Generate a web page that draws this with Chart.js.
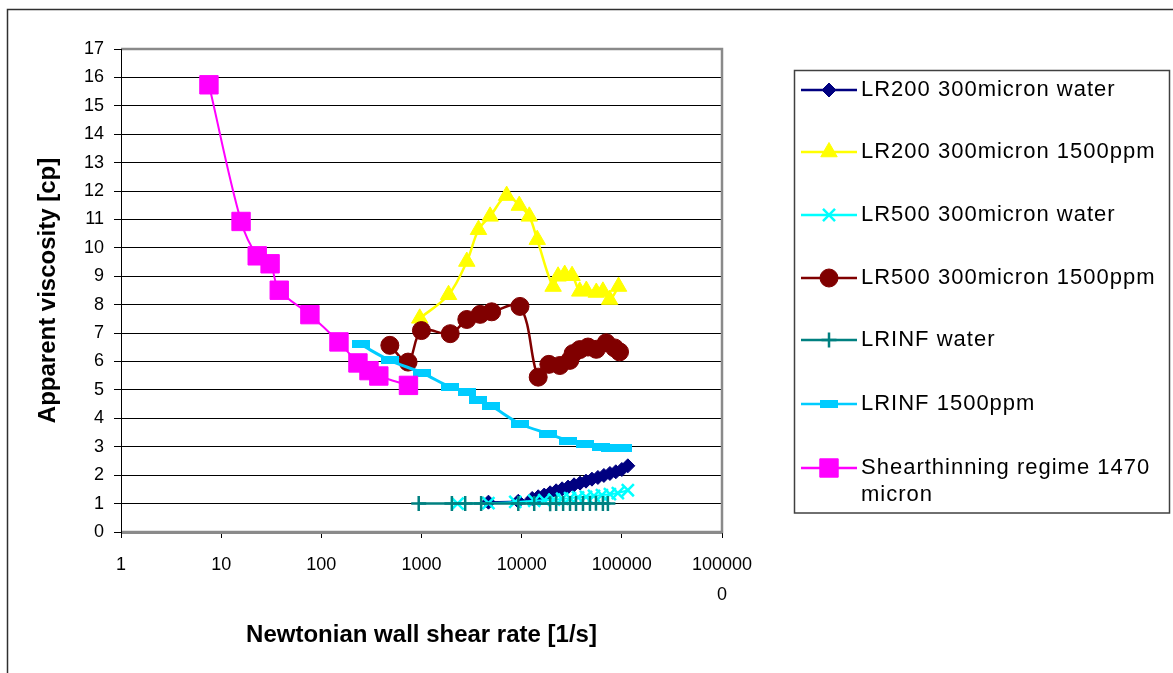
<!DOCTYPE html>
<html>
<head>
<meta charset="utf-8">
<title>Apparent viscosity vs Newtonian wall shear rate</title>
<script src="https://cdn.jsdelivr.net/npm/chart.js@4/dist/chart.umd.min.js"></script>
<style>
  html, body { margin: 0; padding: 0; background: #fff; }
  #wrap { width: 1173px; height: 673px; position: relative; }
  canvas { display: block; }
</style>
</head>
<body>
<div id="wrap"><canvas id="chart" width="1173" height="673" style="width:1173px;height:673px"></canvas></div>
<script>
// ---- axis ticks ----
const rateTicks = [1, 10, 100, 1000, 10000, 100000, 1000000];
const rateTickLabels = ['1', '10', '100', '1000', '10000', '100000', ['100000', '0']];
const viscMin = 0;
const viscMax = 17;

// ---- series: shear rate [1/s] and apparent viscosity [cp] ----
const lr200WaterRate = [4660, 9250, 12740, 14620, 16790, 19240, 22080, 25330, 29040, 33340, 38280, 43870, 50320, 57680, 66220, 76030, 87100, 100000, 114800];
const lr200WaterVisc = [1.05, 1.08, 1.18, 1.24, 1.30, 1.38, 1.45, 1.52, 1.58, 1.66, 1.72, 1.79, 1.86, 1.92, 1.99, 2.06, 2.12, 2.20, 2.33];

const lr200PolyRate = [960, 1862, 2833, 3706, 4842, 7080, 9460, 11910, 14300, 20600, 23100, 26900, 31850, 38000, 44200, 55600, 64700, 75500, 92700];
const lr200PolyVisc = [7.52, 8.35, 9.52, 10.64, 11.11, 11.84, 11.49, 11.11, 10.29, 8.64, 9.00, 9.06, 9.02, 8.47, 8.50, 8.43, 8.47, 8.18, 8.64];

const lr500WaterRate = [2290, 4660, 8630, 13340, 16790, 21090, 25330, 30390, 36530, 43870, 52700, 63260, 76030, 91260, 114800];
const lr500WaterVisc = [1.00, 1.02, 1.06, 1.10, 1.12, 1.14, 1.17, 1.19, 1.22, 1.24, 1.27, 1.30, 1.33, 1.37, 1.47];

const lr500PolyRate = [483, 734, 998, 1936, 2833, 3852, 5020, 9620, 14620, 18680, 24040, 30220, 32600, 38000, 45900, 55600, 69800, 84600, 94900];
const lr500PolyVisc = [6.57, 5.98, 7.09, 6.98, 7.48, 7.66, 7.75, 7.94, 5.45, 5.90, 5.86, 6.04, 6.28, 6.42, 6.51, 6.43, 6.66, 6.48, 6.34];

const lrInfWaterRate = [938, 2010, 2730, 3940, 9250, 13340, 19240, 22080, 25930, 30390, 34880, 40950, 48060, 55170, 64730, 72610];
const lrInfWaterVisc = [1.00, 1.00, 1.00, 1.00, 1.00, 1.00, 0.99, 1.00, 1.00, 1.00, 1.00, 1.00, 1.00, 1.01, 1.00, 1.00];

const lrInfPolyRate = [247, 483, 1012, 1936, 2833, 3706, 4909, 9620, 18380, 29040, 42560, 62270, 76000, 102000];
const lrInfPolyVisc = [6.60, 6.04, 5.60, 5.10, 4.93, 4.65, 4.45, 3.81, 3.46, 3.22, 3.10, 2.99, 2.95, 2.94];

const shearThinRate = [7.55, 15.8, 22.9, 30.8, 38, 76.9, 150, 232, 299, 375, 741];
const shearThinVisc = [15.74, 10.93, 9.72, 9.44, 8.51, 7.65, 6.69, 5.95, 5.68, 5.49, 5.16];

const seriesNames = [
  'LR200 300micron water',
  'LR200 300micron 1500ppm',
  'LR500 300micron water',
  'LR500 300micron 1500ppm',
  'LRINF water',
  'LRINF 1500ppm',
  ['Shearthinning regime 1470', 'micron']
];

// ---- styling ----
const FONT = "'Liberation Sans', Arial, Helvetica, sans-serif";

// flat wide marker used by the LRINF 1500ppm series
function barMarker(w, h, color) {
  const c = document.createElement('canvas');
  c.width = w; c.height = h;
  const g = c.getContext('2d');
  g.fillStyle = color;
  g.fillRect(0, 0, w, h);
  return c;
}

const styles = [
  { color: '#000080', point: 'rectRot', radius: 7, line: 2, pointBorder: 1 },
  { color: '#FFFF00', point: 'triangle', radius: 9.5, line: 2.5, pointBorder: 1 },
  { color: '#00FFFF', point: 'crossRot', radius: 8.5, line: 2, pointBorder: 2.5 },
  { color: '#800000', point: 'circle', radius: 9, line: 2.5, pointBorder: 1 },
  { color: '#008080', point: 'cross', radius: 7.5, line: 2.5, pointBorder: 2.5 },
  { color: '#00CCFF', point: barMarker(18, 8, '#00CCFF'), radius: 6, line: 3, pointBorder: 0 },
  { color: '#FF00FF', point: 'rect', radius: 13, line: 2, pointBorder: 1 }
];

const rates = [lr200WaterRate, lr200PolyRate, lr500WaterRate, lr500PolyRate, lrInfWaterRate, lrInfPolyRate, shearThinRate];
const viscs = [lr200WaterVisc, lr200PolyVisc, lr500WaterVisc, lr500PolyVisc, lrInfWaterVisc, lrInfPolyVisc, shearThinVisc];

const datasets = rates.map((r, i) => ({
  label: Array.isArray(seriesNames[i]) ? seriesNames[i].join(' ') : seriesNames[i],
  data: r.map((x, k) => ({ x: x, y: viscs[i][k] })),
  showLine: true,
  tension: 0.35,
  borderColor: styles[i].color,
  backgroundColor: styles[i].color,
  borderWidth: styles[i].line,
  pointStyle: styles[i].point,
  pointRadius: styles[i].radius,
  pointBackgroundColor: styles[i].color,
  pointBorderColor: styles[i].color,
  pointBorderWidth: styles[i].pointBorder,
  // later series are painted on top
  order: rates.length - i
}));

// marker drawing for the legend samples
function drawMarker(ctx, st, x, y) {
  const r = st.radius;
  ctx.save();
  ctx.fillStyle = st.color;
  ctx.strokeStyle = st.color;
  ctx.lineWidth = st.pointBorder || 1;
  ctx.beginPath();
  if (typeof st.point !== 'string') {
    ctx.drawImage(st.point, x - st.point.width / 2, y - st.point.height / 2);
  } else if (st.point === 'circle') {
    ctx.arc(x, y, r, 0, Math.PI * 2); ctx.fill(); ctx.stroke();
  } else if (st.point === 'triangle') {
    ctx.moveTo(x, y - r);
    ctx.lineTo(x + r * Math.sin(2 * Math.PI / 3), y - r * Math.cos(2 * Math.PI / 3));
    ctx.lineTo(x + r * Math.sin(4 * Math.PI / 3), y - r * Math.cos(4 * Math.PI / 3));
    ctx.closePath(); ctx.fill(); ctx.stroke();
  } else if (st.point === 'rectRot') {
    ctx.moveTo(x, y - r); ctx.lineTo(x + r, y); ctx.lineTo(x, y + r); ctx.lineTo(x - r, y);
    ctx.closePath(); ctx.fill(); ctx.stroke();
  } else if (st.point === 'rect') {
    const s = r * Math.SQRT1_2;
    ctx.rect(x - s, y - s, 2 * s, 2 * s); ctx.fill(); ctx.stroke();
  } else if (st.point === 'crossRot') {
    const d = r * Math.SQRT1_2;
    ctx.moveTo(x - d, y - d); ctx.lineTo(x + d, y + d);
    ctx.moveTo(x - d, y + d); ctx.lineTo(x + d, y - d);
    ctx.stroke();
  } else if (st.point === 'cross') {
    ctx.moveTo(x, y - r); ctx.lineTo(x, y + r);
    ctx.moveTo(x - r, y); ctx.lineTo(x + r, y);
    ctx.stroke();
  }
  ctx.restore();
}

const chartDecor = {
  id: 'chartDecor',
  beforeDraw(chart) {
    const ctx = chart.ctx;
    ctx.save();
    ctx.fillStyle = '#ffffff';
    ctx.fillRect(0, 0, chart.width, chart.height);
    ctx.restore();
  },
  beforeDatasetsDraw(chart) {
    // plot-area frame: grey on top, right and bottom, black value axis on the left
    const { ctx, chartArea: a } = chart;
    ctx.save();
    ctx.strokeStyle = '#8a8a8a';
    ctx.lineWidth = 2.5;
    ctx.beginPath();
    ctx.moveTo(a.left, a.top);
    ctx.lineTo(a.right, a.top);
    ctx.lineTo(a.right, a.bottom);
    ctx.lineTo(a.left, a.bottom);
    ctx.stroke();
    ctx.lineWidth = 3;
    ctx.beginPath();
    ctx.moveTo(a.left, a.bottom + 0.5);
    ctx.lineTo(a.right, a.bottom + 0.5);
    ctx.stroke();
    ctx.strokeStyle = '#000';
    ctx.lineWidth = 1;
    ctx.beginPath();
    ctx.moveTo(a.left + 0.5, a.top);
    ctx.lineTo(a.left + 0.5, a.bottom + 2);
    ctx.stroke();
    ctx.restore();
  },
  afterDraw(chart) {
    const ctx = chart.ctx;
    ctx.save();
    // outer chart border
    ctx.strokeStyle = '#303030';
    ctx.lineWidth = 1.5;
    ctx.strokeRect(7.5, 9.5, 1300, 800);

    // legend box
    const box = { x: 794.5, y: 70.5, w: 375, h: 442.5 };
    ctx.strokeStyle = '#404040';
    ctx.lineWidth = 1.5;
    ctx.strokeRect(box.x, box.y, box.w, box.h);

    const rowY = [90, 152, 215, 278, 340, 404, 468];
    const lineHeight = 27;
    ctx.font = '22px ' + FONT;
    ctx.textBaseline = 'middle';
    ctx.textAlign = 'left';
    if ('letterSpacing' in ctx) ctx.letterSpacing = '1px';
    seriesNames.forEach((name, i) => {
      const y = rowY[i];
      const st = styles[i];
      ctx.strokeStyle = st.color;
      ctx.lineWidth = 2.5;
      ctx.beginPath();
      ctx.moveTo(801, y);
      ctx.lineTo(857, y);
      ctx.stroke();
      drawMarker(ctx, st, 829, y);
      ctx.fillStyle = '#000';
      const lines = Array.isArray(name) ? name : [name];
      lines.forEach((t, k) => ctx.fillText(t, 861, y + k * lineHeight));
    });
    if ('letterSpacing' in ctx) ctx.letterSpacing = '0px';
    ctx.restore();
  }
};

new Chart(document.getElementById('chart').getContext('2d'), {
  type: 'scatter',
  data: { datasets: datasets },
  plugins: [chartDecor],
  options: {
    responsive: false,
    animation: false,
    events: [],
    layout: { padding: { left: 0, top: 49, right: 451, bottom: 0 } },
    plugins: {
      legend: { display: false },
      tooltip: { enabled: false }
    },
    scales: {
      x: {
        type: 'logarithmic',
        min: rateTicks[0],
        max: rateTicks[rateTicks.length - 1],
        afterBuildTicks: (s) => { s.ticks = rateTicks.map(v => ({ value: v, major: true })); },
        afterFit: (s) => { s.height = 141; },
        ticks: {
          autoSkip: false,
          maxRotation: 0,
          minRotation: 0,
          padding: 12,
          color: '#000',
          font: { family: FONT, size: 18, lineHeight: 30 / 18 },
          callback: (v, i) => rateTickLabels[i]
        },
        grid: { drawOnChartArea: false, drawTicks: true, tickLength: 6, color: '#000', lineWidth: 1 },
        border: { display: true, color: '#000', width: 1 },
        title: {
          display: true,
          text: 'Newtonian wall shear rate [1/s]',
          color: '#000',
          font: { family: FONT, size: 24, weight: 'bold', lineHeight: 1.2 },
          padding: { top: 0, bottom: 23 }
        }
      },
      y: {
        min: viscMin,
        max: viscMax,
        afterFit: (s) => { s.width = 121; },
        ticks: {
          stepSize: 1,
          padding: 10,
          color: '#000',
          font: { family: FONT, size: 18 }
        },
        grid: { color: '#000', lineWidth: 1, tickLength: 7 },
        border: { display: true, color: '#000', width: 1 },
        title: {
          display: true,
          text: 'Apparent viscosity [cp]',
          color: '#000',
          font: { family: FONT, size: 24, weight: 'bold', lineHeight: 1.2 },
          padding: { top: 34, bottom: 0 }
        }
      }
    }
  }
});
</script>
</body>
</html>
